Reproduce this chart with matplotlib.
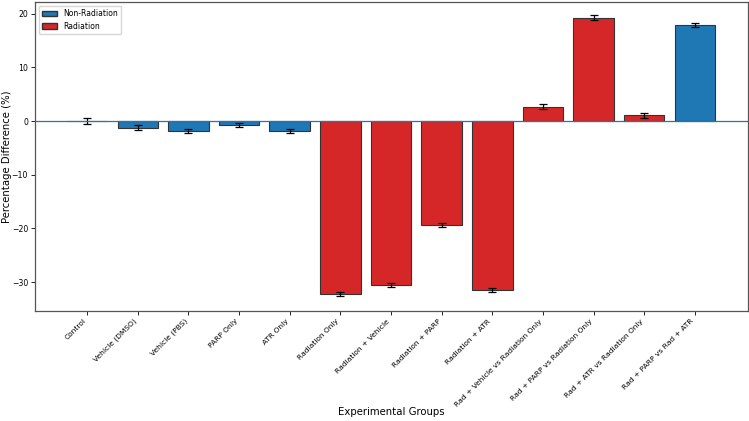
import matplotlib
matplotlib.use("Agg")
import matplotlib.pyplot as plt
from matplotlib.patches import Patch
import numpy as np

groups = ["Control", "Vehicle (DMSO)", "Vehicle (PBS)", "PARP Only", "ATR Only",
          "Radiation Only", "Radiation + Vehicle", "Radiation + PARP", "Radiation + ATR",
          "Rad + Vehicle vs Radiation Only", "Rad + PARP vs Radiation Only",
          "Rad + ATR vs Radiation Only", "Rad + PARP vs Rad + ATR"]
values = [0.0, -1.2, -1.8, -0.7, -1.8, -32.3, -30.5, -19.3, -31.5, 2.7, 19.3, 1.1, 17.9]
errors = [0.6, 0.4, 0.4, 0.4, 0.4, 0.35, 0.35, 0.35, 0.35, 0.4, 0.45, 0.45, 0.4]
radiation = [False, False, False, False, False, True, True, True, True, True, True, True, False]

blue = "#1f77b4"
red = "#d62728"
colors = [red if r else blue for r in radiation]

fig = plt.figure(figsize=(7.49, 4.21), dpi=100)
ax = fig.add_axes([35 / 749, 1 - 311 / 421, 713 / 749, 309 / 421])

x = np.arange(len(groups))
ax.bar(x, values, width=0.8, color=colors, edgecolor="#333333", linewidth=0.8,
       yerr=errors, capsize=3, error_kw=dict(ecolor="black", elinewidth=0.9, capthick=0.9))
ax.axhline(0, color=blue, linewidth=0.9)

ax.set_xlim(-1.03, 13.05)
ax.set_ylim(-35.4, 22.2)
ax.set_yticks([-30, -20, -10, 0, 10, 20])
ax.set_xticks(x)
ax.set_xticklabels(groups, rotation=45, ha="right", fontsize=5.4)
ax.tick_params(axis="y", labelsize=5.6)
ax.tick_params(length=3, width=0.6, pad=2)
for s in ax.spines.values():
    s.set_linewidth(0.9)
    s.set_color("#555555")

ax.set_ylabel("Percentage Difference (%)", fontsize=7.3)
ax.yaxis.set_label_coords(-0.032, 0.5)
ax.set_xlabel("Experimental Groups", fontsize=7.3)
ax.xaxis.set_label_coords(0.5, -0.31)

handles = [Patch(facecolor=blue, edgecolor="#333333", label="Non-Radiation"),
           Patch(facecolor=red, edgecolor="#333333", label="Radiation")]
ax.legend(handles=handles, loc="upper left", fontsize=5.5)

fig.savefig("out.png", dpi=100)
